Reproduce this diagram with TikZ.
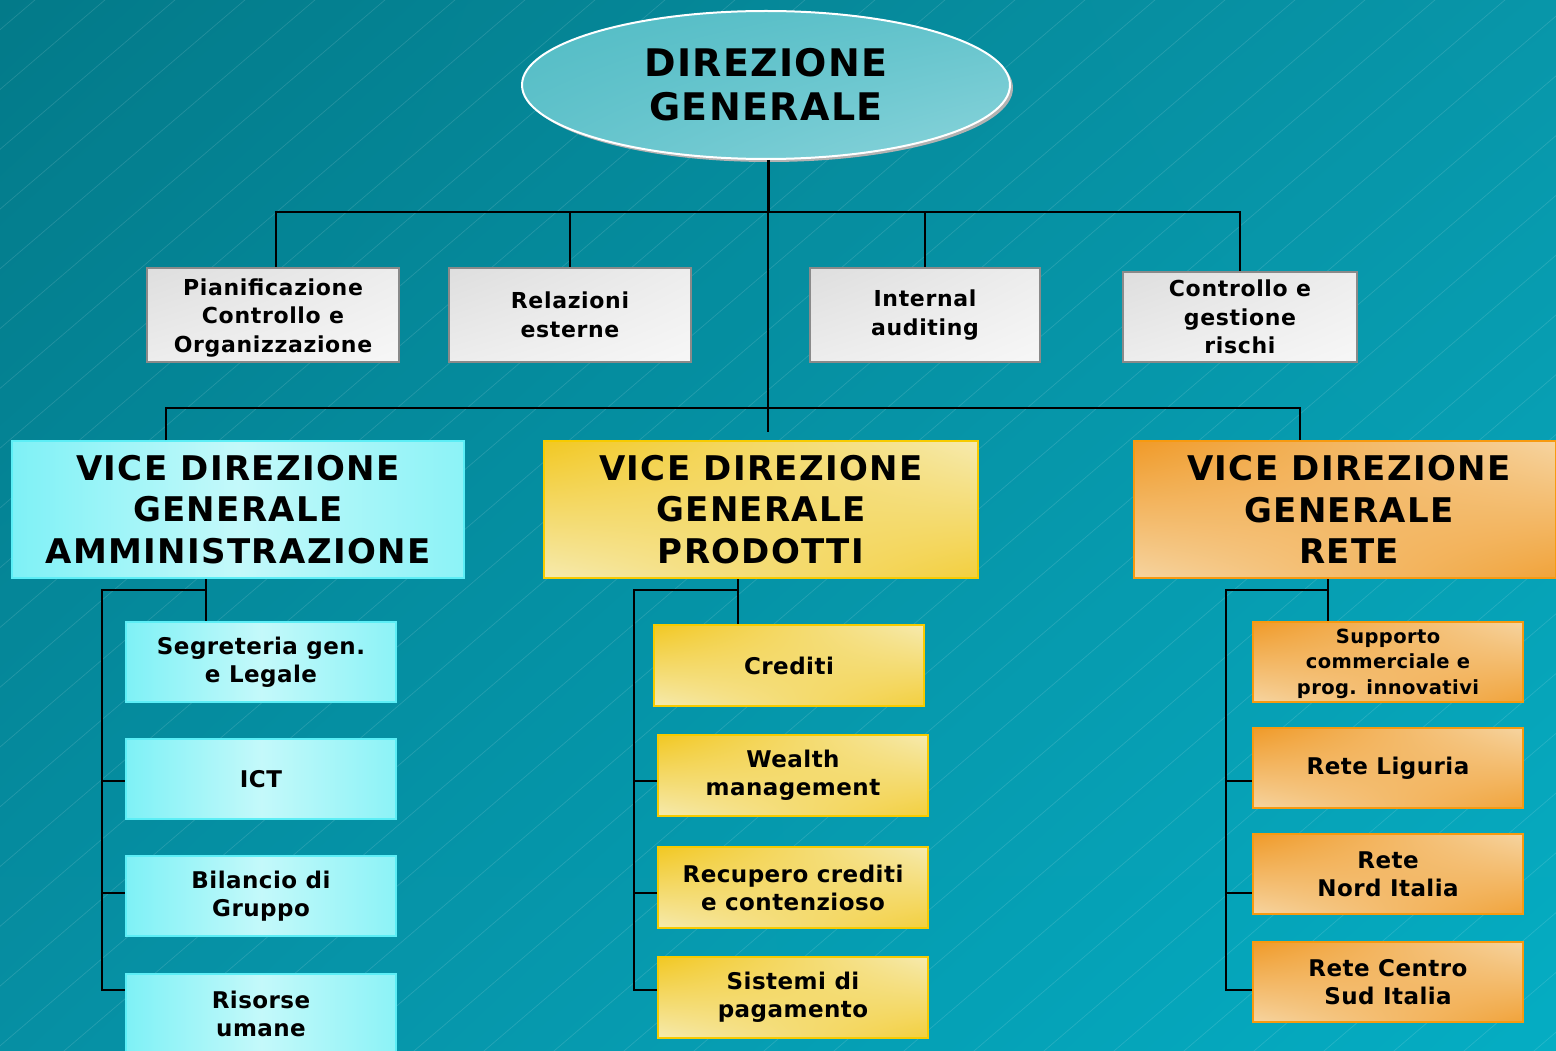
\documentclass[tikz,border=0pt]{standalone}
\usepackage{fontspec}
\setmainfont{DejaVu Sans}
\usetikzlibrary{shapes.geometric,shadings}
\definecolor{bgUL}{HTML}{037A89}
\definecolor{bgUR}{HTML}{0896A9}
\definecolor{bgLL}{HTML}{068FA3}
\definecolor{bgLR}{HTML}{05ADC3}
\definecolor{ellA}{HTML}{52BCC5}
\definecolor{ellB}{HTML}{8AD4DB}
\definecolor{stA}{HTML}{DEDEDE}
\definecolor{stB}{HTML}{F7F7F7}
\definecolor{stBorder}{HTML}{8A8A8A}
\definecolor{cyA}{HTML}{7EF1F6}
\definecolor{cyB}{HTML}{C4F9FA}
\definecolor{cyBorder}{HTML}{5CEEF6}
\definecolor{yeA}{HTML}{F2C822}
\definecolor{yeB}{HTML}{F6EAAE}
\definecolor{yeBorder}{HTML}{F7CB00}
\definecolor{orA}{HTML}{F09A28}
\definecolor{orB}{HTML}{F6D4A0}
\definecolor{orBorder}{HTML}{F79A10}
\begin{document}
\begin{tikzpicture}[x=1pt,y=-1pt,
  conn/.style={draw=black, line width=2pt},
  basebox/.style={rectangle, inner sep=0pt, align=center, text=black, line width=2pt},
  staffbox/.style={basebox, draw=stBorder, shade, upper left=stA, lower right=stB, upper right=stB!60!stA, lower left=stB!60!stA,
     font=\fontsize{22}{28.5}\selectfont\bfseries\addfontfeature{LetterSpace=3}},
  vdgbox/.style={basebox, minimum width=#1, minimum height=137pt, font=\fontsize{34}{41.5}\selectfont\bfseries\addfontfeature{LetterSpace=4}},
  cybox/.style={basebox, draw=cyBorder, shade, left color=cyA, right color=cyA!80!cyB, middle color=cyB},
  yebox/.style={basebox, draw=yeBorder, shade, upper left=yeA, upper right=yeB, lower left=yeB, lower right=yeA!80!yeB},
  orbox/.style={basebox, draw=orBorder, shade, upper left=orA, upper right=orB, lower left=orB, lower right=orA!85!orB},
  childbox/.style={minimum width=270pt, minimum height=80pt, font=\fontsize{23}{28}\selectfont\bfseries\addfontfeature{LetterSpace=2}}
]
\useasboundingbox (0,0) rectangle (1556,1051);
% background
\shade[upper left=bgUL, upper right=bgUR, lower left=bgLL, lower right=bgLR] (0,0) rectangle (1556,1051);
\begin{scope}
  \clip (0,0) rectangle (1556,1051);
  \foreach \i in {-1300,-1230,...,1600}
    \draw[white, opacity=0.13, line width=0.7pt] (\i,1080) -- ++(1300,-1110);
\end{scope}

% top ellipse
\node[ellipse, fill=gray!60, minimum width=488pt, minimum height=148pt, inner sep=0pt] (dgshadow) at (769,88) {};
\node[ellipse, draw=white, line width=2pt, shade, upper left=ellA, upper right=ellA!70!ellB, lower left=ellA!70!ellB, lower right=ellB,
      minimum width=488pt, minimum height=148pt, inner sep=0pt, align=center,
      font=\fontsize{38}{44}\selectfont\bfseries\addfontfeature{LetterSpace=3.5}] (dg) at (766,85) {DIREZIONE\\GENERALE};

% staff boxes
\node[staffbox, minimum width=252pt, minimum height=94pt] (s1) at (273,315) {\begin{tabular}{@{}c@{}}\rule{0pt}{26pt}Pianificazione\\Controllo e\\Organizzazione\end{tabular}};
\node[staffbox, minimum width=242pt, minimum height=94pt] (s2) at (570,315) {Relazioni\\esterne};
\node[staffbox, minimum width=230pt, minimum height=94pt] (s3) at (925,315) {Internal\\auditing};
\node[staffbox, minimum width=234pt, minimum height=90pt] (s4) at (1240,317) {Controllo e\\gestione\\rischi};

% vice direzioni
\node[cybox, vdgbox=452pt] (va) at (238,509.5) {VICE DIREZIONE\\GENERALE\\AMMINISTRAZIONE};
\node[yebox, vdgbox=434pt] (vp) at (761,509.5) {VICE DIREZIONE\\GENERALE\\PRODOTTI};
\node[orbox, vdgbox=422pt] (vr) at (1345,509.5) {\hspace*{8pt}VICE DIREZIONE\\\hspace*{8pt}GENERALE\\\hspace*{8pt}RETE};

% children amministrazione
\node[cybox, childbox] (a1) at (261,662) {Segreteria gen.\\e Legale};
\node[cybox, childbox] (a2) at (261,779) {ICT};
\node[cybox, childbox] (a3) at (261,896) {Bilancio di\\Gruppo};
\node[cybox, childbox] (a4) at (261,1014) {Risorse\\umane};

% children prodotti
\node[yebox, childbox, minimum height=81pt] (p1) at (789,665.5) {Crediti};
\node[yebox, childbox, minimum height=81pt] (p2) at (793,775.5) {Wealth\\management};
\node[yebox, childbox, minimum height=81pt] (p3) at (793,887.5) {Recupero crediti\\e contenzioso};
\node[yebox, childbox, minimum height=81pt] (p4) at (793,997.5) {Sistemi di\\pagamento};

% children rete
\node[orbox, childbox, font=\fontsize{19.5}{25.5}\selectfont\bfseries\addfontfeature{LetterSpace=2}] (r1) at (1388,662) {\begin{tabular}{@{}c@{}}\rule{0pt}{21pt}Supporto\\commerciale e\\prog. innovativi\end{tabular}};
\node[orbox, childbox] (r2) at (1388,768) {Rete Liguria};
\node[orbox, childbox] (r3) at (1388,874) {Rete\\Nord Italia};
\node[orbox, childbox] (r4) at (1388,982) {Rete Centro\\Sud Italia};

% connectors: top level
\coordinate (jt) at (768,212);
\coordinate (jv) at (768,408);
\draw[conn, line width=3pt] (dg.south -| jt) -- (jt);
\draw[conn] ([xshift=3pt]s1.north) |- (jt) -| (s4.north);
\draw[conn] (s2.north) -- (s2.north |- jt);
\draw[conn] (s3.north) -- (s3.north |- jt);
\draw[conn] (jt) -- ([yshift=8pt]jt |- vp.north);
\draw[conn] ([xshift=-72pt]va.north) |- (jv) -| ([xshift=-45pt]vr.north);

% branch levels
\coordinate (lv0) at (0,590);
\coordinate (lv1) at (0,781);
\coordinate (lv2) at (0,893);
\coordinate (lv3) at (0,990);

% amministrazione column
\coordinate (ka) at (102,590);
\draw[conn] ([xshift=-32pt]va.south) -- ([xshift=-55pt]a1.north);
\draw[conn] ([xshift=-32pt]va.south |- lv0) -- (ka) -- (ka |- lv3) -- (a4.west |- lv3);
\draw[conn] (ka |- lv1) -- (a2.west |- lv1);
\draw[conn] (ka |- lv2) -- (a3.west |- lv2);

% prodotti column
\coordinate (kp) at (634,590);
\draw[conn] ([xshift=-23pt]vp.south) -- ([xshift=-51pt]p1.north);
\draw[conn] ([xshift=-23pt]vp.south |- lv0) -- (kp) -- (kp |- lv3) -- (p4.west |- lv3);
\draw[conn] (kp |- lv1) -- (p2.west |- lv1);
\draw[conn] (kp |- lv2) -- (p3.west |- lv2);

% rete column
\coordinate (kr) at (1226,590);
\draw[conn] ([xshift=-17pt]vr.south) -- ([xshift=-60pt]r1.north);
\draw[conn] ([xshift=-17pt]vr.south |- lv0) -- (kr) -- (kr |- lv3) -- (r4.west |- lv3);
\draw[conn] (kr |- lv1) -- (r2.west |- lv1);
\draw[conn] (kr |- lv2) -- (r3.west |- lv2);
\end{tikzpicture}
\end{document}
